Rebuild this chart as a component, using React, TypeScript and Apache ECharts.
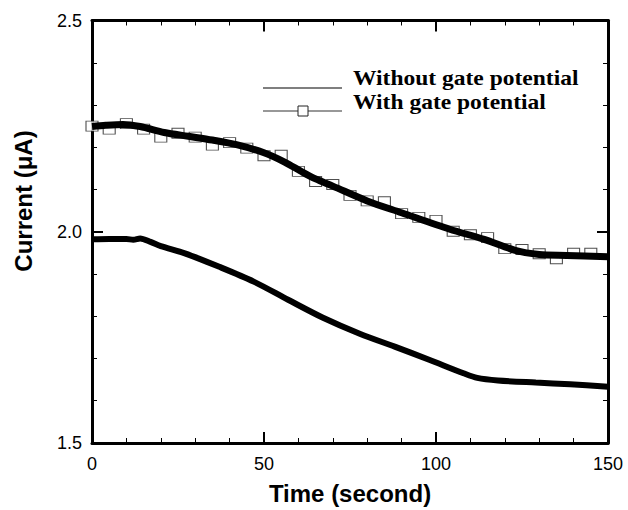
import React, { useEffect, useRef } from "react";
import * as echarts from "echarts";

// Without gate potential (thick line)
const timeWithout = [0, 5, 10, 12, 14, 17, 20, 27, 37, 47, 57, 67, 78, 88, 98, 108, 112, 118, 129, 139, 150];
const currentWithout = [1.982, 1.983, 1.983, 1.981, 1.984, 1.976, 1.966, 1.949, 1.917, 1.882, 1.839, 1.797, 1.758, 1.728, 1.697, 1.665, 1.654, 1.648, 1.643, 1.639, 1.633];

// With gate potential (thick line)
const timeWith = [0, 4, 9, 14, 21, 28, 35, 42, 50, 56, 61, 65, 70, 80, 90, 104, 114, 123, 130, 138, 150];
const currentWith = [2.249, 2.252, 2.254, 2.249, 2.235, 2.226, 2.217, 2.206, 2.187, 2.165, 2.142, 2.125, 2.108, 2.073, 2.045, 2.006, 1.982, 1.956, 1.946, 1.944, 1.941];

// With gate potential (square markers)
const markerTime = [0, 5, 10, 15, 20, 25, 30, 35, 40, 45, 50, 55, 60, 65, 70, 75, 80, 85, 90, 95, 100, 105, 110, 115, 120, 125, 130, 135, 140, 145];
const markerCurrent = [2.25, 2.243, 2.256, 2.243, 2.224, 2.233, 2.224, 2.205, 2.211, 2.198, 2.18, 2.181, 2.143, 2.119, 2.112, 2.086, 2.073, 2.071, 2.043, 2.034, 2.027, 2.001, 1.993, 1.986, 1.96, 1.958, 1.948, 1.936, 1.949, 1.949];

const legendLabels = ["Without gate potential", "With gate potential"];
const xTitle = "Time (second)";
const yTitle = "Current (\u03bcA)";

const pairs = (xs: number[], ys: number[]) => xs.map((x, i) => [x, ys[i]]);

export default function App() {
  const ref = useRef<HTMLDivElement>(null);
  useEffect(() => {
    if (!ref.current) return;
    const chart = echarts.init(ref.current, null, { renderer: "svg" });
    const sans = "Liberation Sans";
    const serif = "Liberation Serif";
    const axisCommon = {
      axisLine: { show: true, onZero: false, lineStyle: { color: "#000", width: 3 } },
      axisTick: { show: true, inside: true, length: 11, lineStyle: { color: "#000", width: 2 } },
      minorTick: { show: true, splitNumber: 5, length: 5, lineStyle: { color: "#000", width: 1 } },
      splitLine: { show: false },
      minorSplitLine: { show: false },
    };
    chart.setOption({
      animation: false,
      backgroundColor: "#fff",
      grid: { left: 92, right: 20, top: 20.5, bottom: 66, containLabel: false },
      xAxis: [
        {
          type: "value",
          min: 0,
          max: 150,
          interval: 50,
          position: "bottom",
          ...axisCommon,
          axisLabel: { color: "#000", fontFamily: sans, fontSize: 18, margin: 12 },
          name: xTitle,
          nameLocation: "middle",
          nameGap: 38,
          nameTextStyle: { color: "#000", fontFamily: sans, fontSize: 24, fontWeight: "bold" },
        },
        {
          type: "value",
          min: 0,
          max: 150,
          interval: 50,
          position: "top",
          ...axisCommon,
          axisLabel: { show: false },
        },
      ],
      yAxis: [
        {
          type: "value",
          min: 1.5,
          max: 2.5,
          interval: 0.5,
          position: "left",
          ...axisCommon,
          axisLabel: {
            color: "#000",
            fontFamily: sans,
            fontSize: 18,
            margin: 10,
            formatter: (v: number) => v.toFixed(1),
          },
        },
        {
          type: "value",
          min: 1.5,
          max: 2.5,
          interval: 0.5,
          position: "right",
          ...axisCommon,
          axisLabel: { show: false },
        },
      ],
      series: [
        {
          name: legendLabels[1] + " markers",
          type: "scatter",
          data: pairs(markerTime, markerCurrent),
          symbol: "rect",
          symbolSize: [12, 10],
          itemStyle: { color: "#fff", borderColor: "#222", borderWidth: 1 },
          z: 1,
        },
        {
          name: legendLabels[1],
          type: "line",
          data: pairs(timeWith, currentWith),
          showSymbol: false,
          smooth: 0.3,
          lineStyle: { color: "#000", width: 7 },
          z: 3,
        },
        {
          name: legendLabels[0],
          type: "line",
          data: pairs(timeWithout, currentWithout),
          showSymbol: false,
          smooth: 0.3,
          lineStyle: { color: "#000", width: 6 },
          z: 3,
        },
      ],
      graphic: [
        { type: "line", shape: { x1: 263, y1: 88, x2: 342, y2: 88 }, style: { stroke: "#000", lineWidth: 1.2 } },
        { type: "line", shape: { x1: 263, y1: 111, x2: 342, y2: 111 }, style: { stroke: "#333", lineWidth: 1.2 } },
        { type: "rect", shape: { x: 298, y: 106, width: 10, height: 10 }, style: { fill: "#fff", stroke: "#222", lineWidth: 1 } },
        {
          type: "text",
          x: 353,
          y: 78,
          scaleX: 1.12,
          style: { text: legendLabels[0], fill: "#000", font: `bold 21px "${serif}"`, verticalAlign: "middle", align: "left" },
        },
        {
          type: "text",
          x: 353,
          y: 102,
          scaleX: 1.12,
          style: { text: legendLabels[1], fill: "#000", font: `bold 21px "${serif}"`, verticalAlign: "middle", align: "left" },
        },
        {
          type: "text",
          x: 23,
          y: 201,
          rotation: Math.PI / 2,
          style: { text: yTitle, fill: "#000", font: `bold 24px "${sans}"`, verticalAlign: "middle", align: "center" },
        },
      ],
    });
    return () => chart.dispose();
  }, []);
  return <div ref={ref} style={{ width: 628, height: 510, position: "absolute", left: 0, top: 0 }} />;
}
